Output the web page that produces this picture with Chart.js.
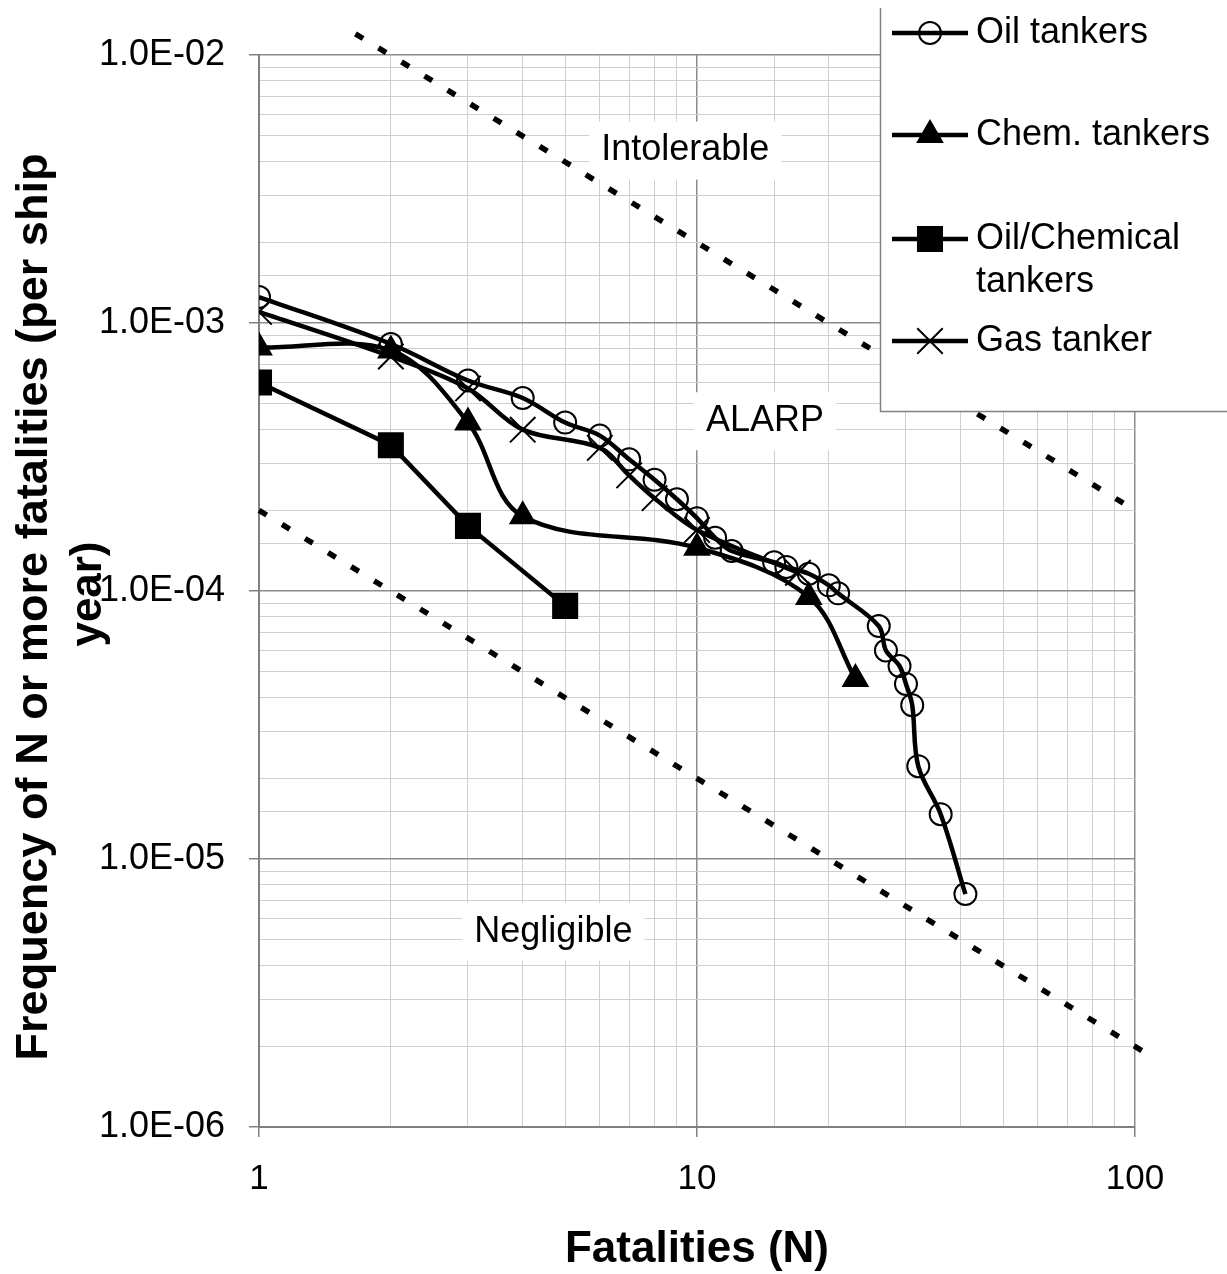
<!DOCTYPE html>
<html>
<head>
<meta charset="utf-8">
<script src="https://cdn.jsdelivr.net/npm/chart.js@4.4.1/dist/chart.umd.min.js"></script>
<style>
html, body { margin: 0; padding: 0; background: #fff; }
canvas { display: block; }
</style>
</head>
<body>
<canvas id="fnChart" width="1227" height="1274"></canvas>
<script>
const FONT = "'Liberation Sans', Arial, sans-serif";

// F-N curves (N = fatalities, F = frequency of N or more per ship year)
const oilN = [1, 2, 3, 4, 5, 6, 7, 8, 9, 10, 11, 12, 15, 16, 18, 20, 21, 26, 27, 29, 30, 31, 32, 36, 41];
const oilF = [1.25e-3, 8.35e-4, 6.1e-4, 5.25e-4, 4.25e-4, 3.8e-4, 3.1e-4, 2.6e-4, 2.2e-4, 1.87e-4, 1.58e-4, 1.41e-4,
              1.28e-4, 1.23e-4, 1.16e-4, 1.05e-4, 9.8e-5, 7.4e-5, 6.0e-5, 5.25e-5, 4.5e-5, 3.75e-5, 2.22e-5, 1.47e-5, 7.4e-6];

const chemN = [1, 2, 3, 4, 10, 18, 23];
const chemF = [8.1e-4, 7.9e-4, 4.25e-4, 1.9e-4, 1.45e-4, 9.5e-5, 4.7e-5];

const oilChemN = [1, 2, 3, 5];
const oilChemF = [6.0e-4, 3.5e-4, 1.75e-4, 8.8e-5];

const gasN = [1, 2, 3, 4, 6, 7, 8, 10, 17];
const gasF = [1.1e-3, 7.5e-4, 5.7e-4, 4.0e-4, 3.42e-4, 2.7e-4, 2.22e-4, 1.69e-4, 1.17e-4];

const seriesLabels = ['Oil tankers', 'Chem. tankers', 'Oil/Chemical\ntankers', 'Gas tanker'];

// risk criteria lines
const upperLimitN = [1.66, 100];
const upperLimitF = [1.2e-2, 2e-4];
const lowerLimitN = [1, 104];
const lowerLimitF = [2e-4, 1.92e-6];

// region labels
const regionLabels = ['Intolerable', 'ALARP', 'Negligible'];
const regionN = [9.4, 14.3, 4.7];
const regionF = [4.4e-3, 4.3e-4, 5.35e-6];

// tick labels
const xMajor = [1, 10, 100];
const xTickLabels = ['1', '10', '100'];
const yMajor = [1e-6, 1e-5, 1e-4, 1e-3, 1e-2];
const yTickLabels = ['1.0E-06', '1.0E-05', '1.0E-04', '1.0E-03', '1.0E-02'];

const toPoints = (xs, ys) => xs.map((x, i) => ({ x: x, y: ys[i] }));
const isMajor = v => Math.abs(Math.log10(v) - Math.round(Math.log10(v))) < 1e-6;
const majorLabel = (v, majors, labels) => {
    const i = majors.findIndex(m => Math.abs(Math.log10(m) - Math.log10(v)) < 1e-6);
    return i >= 0 ? labels[i] : '';
};

const LINE_W = 4.5;

function lineSet(label, xs, ys, style, radius, fill, tension) {
    return {
        label: label.replace('\n', ' '),
        data: toPoints(xs, ys),
        showLine: true,
        borderColor: '#000',
        borderWidth: LINE_W,
        tension: tension,
        pointStyle: style,
        pointRadius: radius,
        pointBackgroundColor: fill,
        pointBorderColor: '#000',
        pointBorderWidth: 2,
        legendText: label.split('\n')
    };
}

function dashSet(xs, ys) {
    return {
        label: '',
        data: toPoints(xs, ys),
        showLine: true,
        borderColor: '#000',
        borderWidth: 5.5,
        borderDash: [9, 18],
        pointRadius: 0,
        clip: false,
        isLimit: true
    };
}

function drawMarker(ctx, style, r, x, y, fill) {
    ctx.save();
    ctx.beginPath();
    if (style === 'circle') {
        ctx.arc(x, y, r, 0, Math.PI * 2);
    } else if (style === 'triangle') {
        ctx.moveTo(x, y - r);
        ctx.lineTo(x + r * Math.sin(2 * Math.PI / 3), y - r * Math.cos(2 * Math.PI / 3));
        ctx.lineTo(x + r * Math.sin(4 * Math.PI / 3), y - r * Math.cos(4 * Math.PI / 3));
        ctx.closePath();
    } else if (style === 'rect') {
        const s = r * Math.SQRT1_2;
        ctx.rect(x - s, y - s, 2 * s, 2 * s);
    } else if (style === 'crossRot') {
        const d = r * Math.SQRT1_2;
        ctx.moveTo(x - d, y - d); ctx.lineTo(x + d, y + d);
        ctx.moveTo(x - d, y + d); ctx.lineTo(x + d, y - d);
    }
    if (style !== 'crossRot' && fill !== 'transparent') {
        ctx.fillStyle = fill;
        ctx.fill();
    }
    ctx.lineWidth = 2;
    ctx.strokeStyle = '#000';
    ctx.stroke();
    ctx.restore();
}

// white-boxed region labels, below the data lines
const regionLabelPlugin = {
    id: 'regionLabels',
    beforeDatasetsDraw(chart) {
        const ctx = chart.ctx;
        const xs = chart.scales.x, ys = chart.scales.y;
        ctx.save();
        ctx.font = '36px ' + FONT;
        ctx.textAlign = 'center';
        ctx.textBaseline = 'middle';
        regionLabels.forEach((t, i) => {
            const px = xs.getPixelForValue(regionN[i]);
            const py = ys.getPixelForValue(regionF[i]);
            const w = ctx.measureText(t).width;
            ctx.fillStyle = '#fff';
            ctx.fillRect(px - w / 2 - 12, py - 29, w + 24, 58);
            ctx.fillStyle = '#000';
            ctx.fillText(t, px, py);
        });
        ctx.restore();
    }
};

// axis titles and legend box
const decorPlugin = {
    id: 'decor',
    afterDraw(chart) {
        const ctx = chart.ctx;
        const area = chart.chartArea;
        ctx.save();
        ctx.fillStyle = '#000';
        ctx.font = 'bold 44px ' + FONT;
        ctx.textAlign = 'center';
        ctx.textBaseline = 'alphabetic';

        // y title (two lines)
        const yTitle = [
            { text: 'Frequency of N or more fatalities (per ship', x: 47, y: 607, len: 907 },
            { text: 'year)', x: 101, y: 594, len: 105 }
        ];
        yTitle.forEach(l => {
            const w = ctx.measureText(l.text).width;
            ctx.save();
            ctx.translate(l.x, l.y);
            ctx.rotate(-Math.PI / 2);
            ctx.scale(l.len / w, 1);
            ctx.fillText(l.text, 0, 0);
            ctx.restore();
        });

        // x title
        ctx.fillText('Fatalities (N)', (area.left + area.right) / 2, 1262);

        // legend (top edge has no visible border)
        ctx.fillStyle = '#fff';
        ctx.fillRect(880, 8, 360, 403);
        ctx.strokeStyle = '#808080';
        ctx.lineWidth = 1.5;
        ctx.beginPath();
        ctx.moveTo(880.5, 8);
        ctx.lineTo(880.5, 411.5);
        ctx.lineTo(1240, 411.5);
        ctx.stroke();

        const rows = [33, 135, 239, 341];
        let r = 0;
        ctx.font = '36px ' + FONT;
        ctx.textAlign = 'left';
        ctx.textBaseline = 'middle';
        chart.data.datasets.forEach(ds => {
            if (ds.isLimit) return;
            const y = rows[r++];
            ctx.beginPath();
            ctx.moveTo(892, y);
            ctx.lineTo(968, y);
            ctx.strokeStyle = '#000';
            ctx.lineWidth = LINE_W;
            ctx.stroke();
            drawMarker(ctx, ds.pointStyle, ds.pointRadius, 930, y, ds.pointBackgroundColor);
            ctx.fillStyle = '#000';
            ds.legendText.forEach((t, k) => ctx.fillText(t, 976, y + k * 43));
        });
        ctx.restore();
    }
};

const gridColor = c => (c.tick && isMajor(c.tick.value)) ? '#8c8c8c' : '#cfcfcf';
const gridWidth = c => (c.tick && isMajor(c.tick.value)) ? 1.5 : 1;
const tickColor = c => (c.tick && isMajor(c.tick.value)) ? '#808080' : 'rgba(0,0,0,0)';

new Chart(document.getElementById('fnChart').getContext('2d'), {
    type: 'scatter',
    data: {
        datasets: [
            dashSet(upperLimitN, upperLimitF),
            dashSet(lowerLimitN, lowerLimitF),
            lineSet(seriesLabels[0], oilN, oilF, 'circle', 11, 'transparent', 0.35),
            lineSet(seriesLabels[1], chemN, chemF, 'triangle', 14, '#000', 0.35),
            lineSet(seriesLabels[2], oilChemN, oilChemF, 'rect', 17, '#000', 0),
            lineSet(seriesLabels[3], gasN, gasF, 'crossRot', 18, 'transparent', 0.35)
        ]
    },
    options: {
        responsive: false,
        animation: false,
        devicePixelRatio: 1,
        layout: { padding: { left: 0, top: 55, right: 92, bottom: 0 } },
        plugins: {
            legend: { display: false },
            tooltip: { enabled: false }
        },
        scales: {
            x: {
                type: 'logarithmic',
                min: 1,
                max: 100,
                afterFit(s) { s.height = 147; },
                ticks: {
                    autoSkip: false,
                    maxRotation: 0,
                    padding: 21,
                    color: '#000',
                    font: { family: FONT, size: 35 },
                    callback: v => majorLabel(v, xMajor, xTickLabels)
                },
                grid: { color: gridColor, lineWidth: gridWidth, tickLength: 10, tickColor: tickColor },
                border: { color: '#808080', width: 2 }
            },
            y: {
                type: 'logarithmic',
                min: 1e-6,
                max: 1e-2,
                afterFit(s) { s.width = 259; },
                ticks: {
                    autoSkip: false,
                    padding: 24,
                    color: '#000',
                    font: { family: FONT, size: 36 },
                    callback: v => majorLabel(v, yMajor, yTickLabels)
                },
                grid: { color: gridColor, lineWidth: gridWidth, tickLength: 10, tickColor: tickColor },
                border: { color: '#808080', width: 2 }
            }
        }
    },
    plugins: [regionLabelPlugin, decorPlugin]
});
</script>
</body>
</html>
